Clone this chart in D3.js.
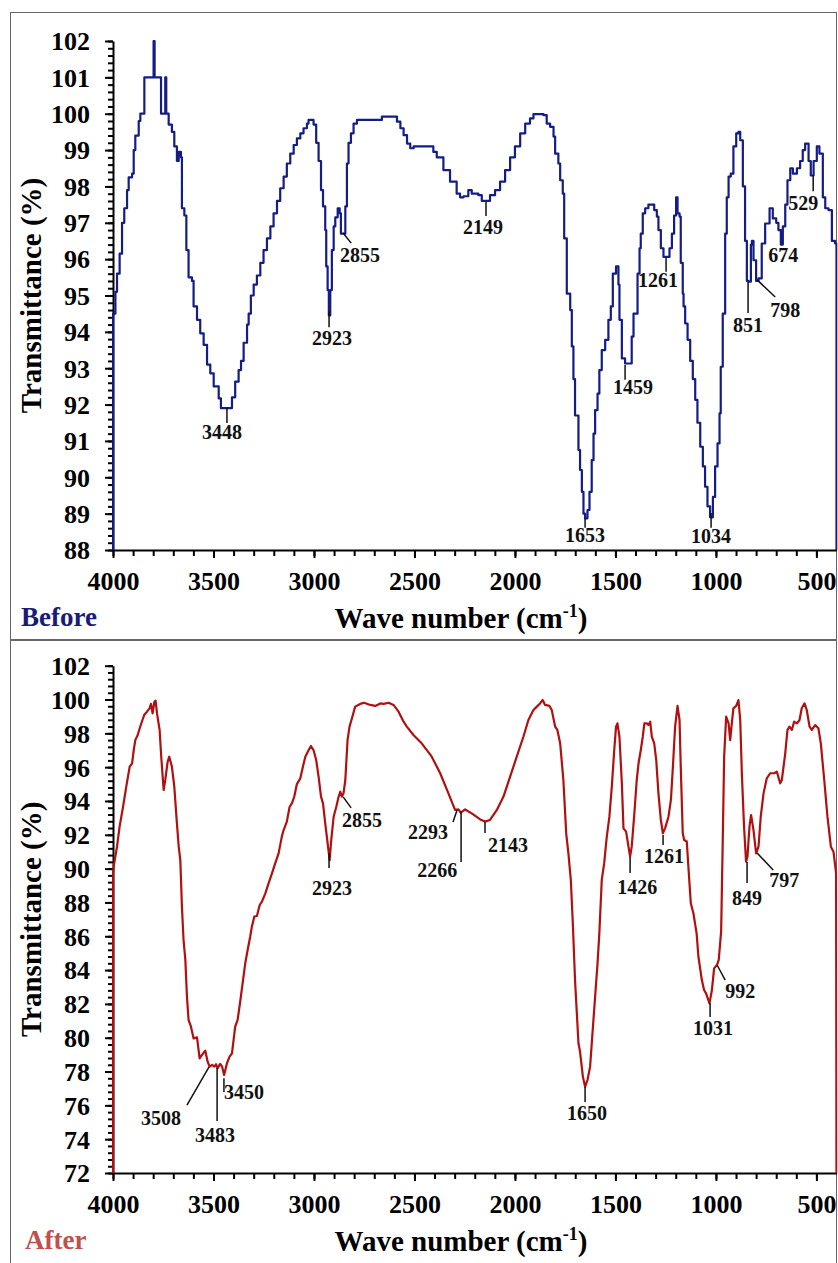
<!DOCTYPE html>
<html>
<head>
<meta charset="utf-8">
<script src="https://cdn.jsdelivr.net/npm/d3@7"></script>
<style>
  body { margin: 0; background: #fff; }
  svg { display: block; }
  text { font-family: "Liberation Serif", "Times New Roman", serif; font-weight: bold; }
</style>
</head>
<body>
<div id="chart"></div>
<script>
// wave number tick labels (cm-1)
var xTickValues = [4000, 3500, 3000, 2500, 2000, 1500, 1000, 500];

// "Before" spectrum : [wave number, transmittance %]
var beforeSpectrum = [
  [4000, 87], [4000, 94.5], [3988, 95.1], [3980, 95.6], [3967, 96.15], [3955, 97.0], [3944, 97.4],
  [3930, 97.9], [3922, 98.25], [3905, 98.35], [3897, 99.0], [3889, 99.4], [3872, 99.8], [3864, 100],
  [3844, 100], [3844, 101], [3801, 101], [3798, 102], [3793, 101], [3761, 101], [3761, 100],
  [3743, 100], [3740, 101], [3735, 100], [3723, 99.7], [3707, 99.5], [3695, 99.1], [3682, 98.7],
  [3673, 98.95], [3662, 98.8], [3657, 97.4], [3645, 97.2], [3635, 96.25], [3624, 95.5], [3607, 95.4],
  [3599, 94.7], [3582, 94.33], [3566, 93.96], [3549, 93.64], [3532, 93.1], [3516, 92.86], [3499, 92.5],
  [3474, 92.17], [3463, 91.9], [3425, 91.9], [3408, 92.2], [3392, 92.63], [3375, 92.95], [3363, 93.2],
  [3350, 93.7], [3333, 94.2], [3325, 94.5], [3314, 95.0], [3300, 95.3], [3284, 95.55], [3267, 95.9],
  [3251, 96.25], [3234, 96.57], [3217, 96.9], [3201, 97.26], [3184, 97.6], [3168, 97.95], [3151, 98.27],
  [3135, 98.63], [3118, 98.9], [3101, 99.14], [3085, 99.32], [3068, 99.46], [3052, 99.6], [3035, 99.73],
  [3027, 99.83], [3013, 99.83], [3002, 99.7], [2989, 99.2], [2977, 98.7], [2965, 97.9], [2955, 97.45],
  [2944, 96.8], [2939, 95.8], [2932, 95.15], [2926, 94.45], [2919, 95.15], [2911, 96.25], [2902, 96.9],
  [2894, 97.15], [2882, 97.4], [2872, 97.26], [2866, 96.7], [2853, 96.7], [2844, 97.45], [2836, 98.63],
  [2828, 99.2], [2816, 99.46], [2803, 99.73], [2786, 99.83], [2670, 99.83], [2662, 99.92], [2612, 99.92],
  [2587, 99.78], [2570, 99.6], [2554, 99.41], [2537, 99.18], [2521, 99.05], [2504, 99.1], [2431, 99.1],
  [2406, 98.95], [2389, 98.8], [2356, 98.45], [2323, 98.13], [2290, 97.8], [2273, 97.7], [2256, 97.73],
  [2232, 97.9], [2215, 97.8], [2182, 97.76], [2165, 97.6], [2144, 97.6], [2124, 97.76], [2099, 97.9],
  [2074, 98.13], [2049, 98.45], [2024, 98.8], [2000, 99.1], [1974, 99.46], [1949, 99.73], [1925, 99.87],
  [1908, 99.99], [1858, 99.96], [1842, 99.73], [1825, 99.64], [1808, 99.37], [1800, 98.9], [1784, 98.63],
  [1775, 98.17], [1762, 97.8], [1755, 96.57], [1742, 95.05], [1725, 94.6], [1717, 93.6], [1709, 92.7],
  [1701, 91.7], [1684, 90.75], [1676, 90.2], [1667, 89.6], [1659, 89.0], [1651, 88.87], [1639, 89.1],
  [1629, 89.6], [1618, 90.47], [1609, 91.2], [1601, 91.85], [1589, 92.3], [1580, 92.95], [1568, 93.5],
  [1551, 93.78], [1535, 94.33], [1523, 94.7], [1513, 95.6], [1497, 95.8], [1485, 95.3], [1480, 94.33],
  [1468, 93.27], [1452, 93.13], [1430, 93.13], [1419, 93.87], [1410, 94.5], [1390, 95.6], [1380, 96.3],
  [1374, 96.7], [1364, 97.26], [1352, 97.4], [1336, 97.5], [1319, 97.5], [1307, 97.35], [1294, 97.17],
  [1286, 96.8], [1274, 96.3], [1261, 96.06], [1244, 96.06], [1231, 96.3], [1219, 96.7], [1208, 97.2],
  [1198, 97.7], [1191, 97.26], [1181, 97.17], [1175, 95.9], [1165, 95.05], [1161, 94.7], [1153, 94.23],
  [1141, 93.78], [1128, 93.2], [1115, 92.7], [1103, 92.13], [1092, 91.5], [1078, 90.84], [1065, 90.3],
  [1054, 89.74], [1042, 89.2], [1029, 88.9], [1015, 89.46], [1004, 90.3], [992, 90.93], [982, 91.76],
  [976, 93.04], [966, 94.5], [954, 96.7], [946, 97.7], [937, 98.27], [926, 98.35], [913, 99.1],
  [899, 99.46], [888, 99.5], [879, 99.27], [866, 98.0], [855, 96.5], [846, 95.4], [838, 95.38],
  [826, 96.4], [821, 96.5], [813, 95.97], [800, 95.4], [788, 95.47], [772, 96.43], [755, 96.98],
  [733, 97.4], [717, 97.12], [700, 97.0], [689, 96.8], [677, 96.4], [667, 96.9], [655, 97.5],
  [644, 98.17], [630, 98.5], [617, 98.35], [597, 98.5], [581, 98.7], [568, 99.0], [556, 99.18],
  [539, 98.7], [528, 98.3], [514, 98.7], [498, 99.1], [485, 98.9], [468, 97.7], [456, 97.4],
  [440, 97.35], [423, 96.5], [407, 96.43], [400, 94.4], [400, 87]
];

// "After" spectrum : [wave number, transmittance %]
var afterSpectrum = [
  [4000, 70], [4000, 89.6], [3997, 90.1], [3980, 91.3], [3967, 92.5], [3950, 93.66], [3934, 94.85],
  [3917, 96.03], [3905, 96.23], [3897, 97.0], [3889, 97.6], [3877, 97.9], [3867, 98.3], [3856, 98.7],
  [3844, 99.1], [3831, 99.28], [3818, 99.48], [3811, 99.74], [3803, 99.18], [3794, 99.87], [3788, 99.93],
  [3781, 99.18], [3768, 98.2], [3760, 96.62], [3748, 94.65], [3740, 95.24], [3728, 96.33], [3720, 96.62],
  [3707, 96.03], [3695, 94.85], [3682, 92.68], [3673, 91.3], [3665, 90.5], [3657, 87.75], [3649, 85.78],
  [3640, 84.6], [3632, 82.43], [3624, 81.05], [3612, 80.65], [3599, 79.96], [3582, 80.02], [3569, 78.78],
  [3557, 78.98], [3541, 79.24], [3529, 78.58], [3519, 78.29], [3507, 78.39], [3496, 78.29], [3487, 78.43],
  [3480, 78.19], [3467, 78.45], [3457, 78.29], [3447, 77.8], [3433, 78.49], [3420, 78.88], [3408, 79.08],
  [3400, 79.87], [3392, 80.65], [3380, 81.05], [3366, 82.23], [3353, 83.41], [3342, 84.4], [3330, 85.19],
  [3317, 86.0], [3309, 86.57], [3297, 87.16], [3284, 87.2], [3270, 87.85], [3259, 88.05], [3242, 88.54],
  [3226, 89.13], [3209, 89.72], [3193, 90.31], [3176, 90.9], [3160, 91.89], [3151, 92.28], [3135, 92.78],
  [3121, 93.66], [3110, 93.86], [3098, 94.26], [3085, 95.0], [3068, 95.34], [3055, 96.03], [3043, 96.62],
  [3027, 97.0], [3015, 97.25], [3002, 97.0], [2989, 96.42], [2977, 95.44], [2965, 94.26], [2955, 93.86],
  [2944, 92.68], [2932, 91.5], [2922, 90.5], [2914, 91.7], [2902, 93.07], [2889, 93.66], [2877, 94.26],
  [2869, 94.55], [2861, 94.26], [2853, 94.45], [2844, 95.24], [2833, 97.6], [2823, 98.4], [2811, 98.89],
  [2795, 99.58], [2770, 99.74], [2750, 99.81], [2720, 99.68], [2695, 99.62], [2670, 99.77], [2653, 99.74],
  [2629, 99.81], [2604, 99.68], [2579, 99.28], [2554, 98.69], [2538, 98.4], [2505, 97.9], [2464, 97.41],
  [2414, 96.62], [2372, 95.64], [2331, 94.45], [2298, 93.47], [2281, 93.5], [2270, 93.31], [2248, 93.5],
  [2215, 93.27], [2173, 92.91], [2149, 92.78], [2124, 92.88], [2090, 93.47], [2057, 94.26], [2024, 95.44],
  [1991, 96.62], [1958, 97.8], [1933, 98.79], [1908, 99.38], [1891, 99.58], [1875, 99.77], [1862, 99.97],
  [1850, 99.68], [1828, 99.62], [1817, 99.38], [1800, 98.4], [1789, 98.2], [1775, 97.41], [1759, 95.24],
  [1745, 92.09], [1734, 90.9], [1722, 89.33], [1712, 86.77], [1701, 83.41], [1692, 81.44], [1684, 79.67],
  [1676, 79.17], [1662, 77.7], [1651, 77.1], [1639, 77.5], [1626, 78.29], [1613, 80.46], [1601, 82.43],
  [1589, 84.4], [1580, 86.2], [1568, 89.33], [1556, 90.31], [1543, 91.89], [1530, 93.07], [1518, 94.85],
  [1506, 97.0], [1497, 98.4], [1490, 98.59], [1480, 97.8], [1468, 95.04], [1460, 92.38], [1447, 92.19],
  [1435, 91.3], [1427, 90.71], [1419, 91.3], [1407, 93.07], [1394, 95.24], [1385, 96.23], [1374, 97.0],
  [1364, 97.8], [1356, 98.59], [1344, 98.59], [1336, 98.49], [1327, 98.69], [1319, 97.8], [1307, 97.41],
  [1297, 96.42], [1286, 94.45], [1274, 92.88], [1264, 92.09], [1253, 92.38], [1236, 93.07], [1224, 94.06],
  [1214, 96.03], [1203, 98.4], [1191, 99.62], [1181, 98.79], [1175, 96.03], [1165, 92.09], [1158, 91.69],
  [1145, 91.6], [1137, 90.12], [1125, 87.95], [1112, 87.36], [1096, 86.17], [1087, 84.79], [1070, 83.41],
  [1059, 82.82], [1049, 82.62], [1032, 82.03], [1020, 82.82], [1009, 84.1], [995, 84.3], [986, 84.6],
  [979, 85.58], [974, 86.3], [966, 91.69], [959, 96.62], [949, 98.99], [937, 98.59], [929, 97.6],
  [921, 98.59], [913, 99.48], [899, 99.62], [888, 99.97], [879, 98.79], [871, 95.64], [860, 92.48],
  [850, 90.41], [843, 90.71], [833, 92.48], [825, 93.17], [813, 92.28], [800, 90.9], [788, 91.3],
  [777, 93.07], [763, 94.45], [747, 95.34], [730, 95.64], [710, 95.64], [697, 95.74], [680, 95.04],
  [672, 95.24], [655, 96.82], [644, 98.2], [634, 98.4], [622, 98.2], [611, 98.69], [597, 98.59],
  [584, 98.79], [573, 99.48], [559, 99.77], [548, 99.38], [534, 98.4], [523, 98.2], [506, 98.49],
  [490, 98.3], [478, 97.41], [461, 95.24], [445, 93.07], [428, 91.3], [415, 91.0], [402, 89.72], [400, 70]
];

// peak labels: text, leader line [wn1, T1, wn2, T2] (or null), text centre [wn, T]
var beforePeaks = [
  { label: "3448", line: [3433, 91.91, 3433, 91.49], at: [3458, 91.25] },
  { label: "2923", line: [2925, 94.55, 2925, 94.13], at: [2910, 93.83] },
  { label: "2855", line: [2855, 96.72, 2815, 96.44], at: [2771, 96.11] },
  { label: "2149", line: [2144, 97.57, 2144, 97.19], at: [2159, 96.88] },
  { label: "1653", line: [1651, 88.88, 1651, 88.61], at: [1651, 88.41] },
  { label: "1459", line: [1452, 93.09, 1452, 92.68], at: [1412, 92.48] },
  { label: "1261", line: [1248, 96.03, 1248, 95.65], at: [1288, 95.43] },
  { label: "1034", line: [1024, 89.02, 1024, 88.61], at: [1024, 88.39] },
  { label: "851", line: [840, 95.37, 840, 94.52], at: [840, 94.19] },
  { label: "798", line: [795, 95.43, 705, 94.96], at: [655, 94.6] },
  { label: "674", line: null, at: [665, 96.11] },
  { label: "529", line: [516, 98.31, 516, 97.87], at: [566, 97.54] }
];

var afterPeaks = [
  { label: "3508", line: [3522, 78.27, 3632, 76.02], at: [3761, 75.25] },
  { label: "3483", line: [3482, 78.21, 3482, 75.07], at: [3492, 74.25] },
  { label: "3450", line: [3448, 77.61, 3448, 76.79], at: [3348, 76.8] },
  { label: "2923", line: [2925, 90.92, 2925, 90.04], at: [2910, 88.85] },
  { label: "2855", line: [2855, 94.24, 2815, 93.59], at: [2761, 92.88] },
  { label: "2293", line: [2288, 93.47, 2308, 92.76], at: [2432, 92.17] },
  { label: "2266", line: [2268, 93.35, 2268, 90.39], at: [2387, 89.92] },
  { label: "2143", line: [2149, 92.76, 2149, 92.11], at: [2034, 91.4] },
  { label: "1650", line: [1651, 77.09, 1651, 76.2], at: [1641, 75.55] },
  { label: "1426", line: [1427, 90.69, 1427, 89.74], at: [1392, 88.91] },
  { label: "1261", line: [1263, 91.99, 1263, 91.4], at: [1258, 90.75] },
  { label: "1031", line: [1029, 82.05, 1029, 81.22], at: [1014, 80.57] },
  { label: "992", line: [994, 84.3, 954, 83.41], at: [879, 82.76] },
  { label: "849", line: [845, 90.39, 845, 89.15], at: [845, 88.26] },
  { label: "797", line: [795, 90.92, 715, 89.92], at: [660, 89.33] }
];

var W = 838, H = 1263;

var svg = d3.select("#chart")
  .append("svg")
  .attr("width", W)
  .attr("height", H);

// panel frames
svg.append("rect")
  .attr("x", 10.5).attr("y", 12.5)
  .attr("width", 826).attr("height", 627)
  .attr("fill", "none").attr("stroke", "#666").attr("stroke-width", 1);
svg.append("rect")
  .attr("x", 10.5).attr("y", 640.5)
  .attr("width", 826).attr("height", 640)
  .attr("fill", "none").attr("stroke", "#666").attr("stroke-width", 1);

function drawPanel(opt) {
  var x = d3.scaleLinear().domain([4000, 400]).range([113, 836.5]);
  var y = d3.scaleLinear().domain(opt.yDomain).range([opt.bottom, opt.top]);

  var g = svg.append("g");

  var clipId = "clip-" + opt.name;
  g.append("clipPath").attr("id", clipId)
    .append("rect")
    .attr("x", x(4000) - 1).attr("y", opt.top - 4)
    .attr("width", x(400) - x(4000) + 2).attr("height", opt.bottom - opt.top + 4);

  // y axis
  var yMinor = d3.range(opt.yDomain[0], opt.yDomain[1] + 1e-6, opt.yMinor);
  var yMajor = d3.range(opt.yDomain[0], opt.yDomain[1] + 1e-6, opt.yMajor);

  g.append("g")
    .attr("transform", "translate(" + x(4000) + ",0)")
    .call(d3.axisLeft(y).tickValues(yMinor).tickSize(5).tickFormat(""))
    .call(function (s) { s.select(".domain").remove(); })
    .selectAll("line").attr("stroke", "#000").attr("stroke-width", 2);

  var yAx = g.append("g")
    .attr("transform", "translate(" + x(4000) + ",0)")
    .call(d3.axisLeft(y).tickValues(yMajor).tickSize(8).tickSizeOuter(0).tickPadding(15).tickFormat(d3.format("d")));
  yAx.select(".domain").attr("stroke", "#000").attr("stroke-width", 2);
  yAx.selectAll("line").attr("stroke", "#000").attr("stroke-width", 2);
  yAx.selectAll("text")
    .attr("font-size", 26).attr("font-family", "Liberation Serif").attr("font-weight", "bold")
    .attr("fill", "#000").attr("dy", "0.34em");

  // x axis
  var xMinor = d3.range(4000, 499, -100);
  g.append("g")
    .attr("transform", "translate(0," + opt.bottom + ")")
    .call(d3.axisBottom(x).tickValues(xMinor).tickSize(6).tickFormat(""))
    .call(function (s) { s.select(".domain").remove(); })
    .selectAll("line").attr("stroke", "#000").attr("stroke-width", 2);

  var xAx = g.append("g")
    .attr("transform", "translate(0," + opt.bottom + ")")
    .call(d3.axisBottom(x).tickValues(xTickValues).tickSize(8).tickSizeOuter(0).tickPadding(14).tickFormat(d3.format("d")));
  xAx.select(".domain").attr("stroke", "#000").attr("stroke-width", 2);
  xAx.selectAll("line").attr("stroke", "#000").attr("stroke-width", 2);
  xAx.selectAll("text")
    .attr("font-size", 26).attr("font-family", "Liberation Serif").attr("font-weight", "bold")
    .attr("fill", "#000");

  // spectrum
  var line = d3.line()
    .curve(opt.curve)
    .x(function (d) { return x(d[0]); })
    .y(function (d) { return y(d[1]); });

  g.append("path")
    .datum(opt.data)
    .attr("clip-path", "url(#" + clipId + ")")
    .attr("fill", "none")
    .attr("stroke", opt.color)
    .attr("stroke-width", 2.2)
    .attr("stroke-linejoin", "round")
    .attr("d", line);

  // peak labels
  var peaks = g.selectAll(".peak")
    .data(opt.peaks)
    .enter().append("g")
    .attr("class", "peak");

  peaks.filter(function (d) { return d.line; })
    .append("line")
    .attr("x1", function (d) { return x(d.line[0]); })
    .attr("y1", function (d) { return y(d.line[1]); })
    .attr("x2", function (d) { return x(d.line[2]); })
    .attr("y2", function (d) { return y(d.line[3]); })
    .attr("stroke", "#111")
    .attr("stroke-width", 1.5);

  peaks.append("text")
    .attr("x", function (d) { return x(d.at[0]); })
    .attr("y", function (d) { return y(d.at[1]); })
    .attr("dy", "0.35em")
    .attr("text-anchor", "middle")
    .attr("font-size", 20)
    .attr("fill", "#111")
    .text(function (d) { return d.label; });

  // axis titles
  var yMid = (opt.top + opt.bottom) / 2;
  g.append("text")
    .attr("transform", "translate(41," + yMid + ") rotate(-90)")
    .attr("text-anchor", "middle")
    .attr("font-size", 29)
    .attr("fill", "#000")
    .text("Transmittance (%)");

  var xt = g.append("text")
    .attr("x", 461)
    .attr("y", opt.titleY)
    .attr("text-anchor", "middle")
    .attr("font-size", 29)
    .attr("fill", "#000");
  xt.append("tspan").text("Wave number (cm");
  xt.append("tspan").attr("font-size", 18).attr("dy", -11).text("-1");
  xt.append("tspan").attr("dy", 11).text(")");

  g.append("text")
    .attr("x", opt.tagX)
    .attr("y", opt.titleY - 2)
    .attr("font-size", 27)
    .attr("fill", opt.tagColor)
    .text(opt.name);
}

drawPanel({
  name: "Before",
  data: beforeSpectrum,
  peaks: beforePeaks,
  color: "#141c86",
  tagColor: "#1a1a78",
  tagX: 21,
  curve: d3.curveStepAfter,
  yDomain: [88, 102],
  yMajor: 1,
  yMinor: 0.2,
  top: 41,
  bottom: 550,
  titleY: 628
});

drawPanel({
  name: "After",
  data: afterSpectrum,
  peaks: afterPeaks,
  color: "#b01010",
  tagColor: "#c0504d",
  tagX: 25,
  curve: d3.curveLinear,
  yDomain: [72, 102],
  yMajor: 2,
  yMinor: 0.4,
  top: 665.7,
  bottom: 1173,
  titleY: 1251
});
</script>
</body>
</html>
